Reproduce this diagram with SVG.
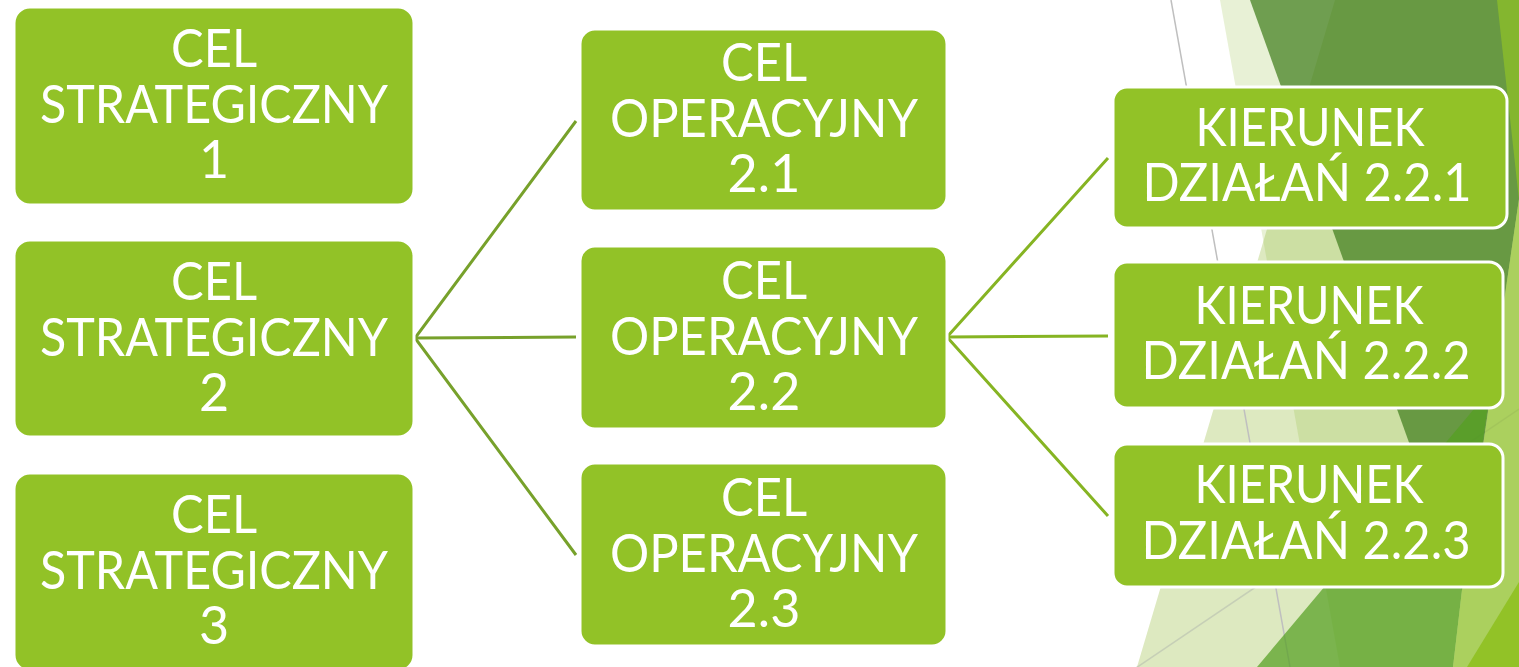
<svg xmlns="http://www.w3.org/2000/svg" width="1519" height="667" viewBox="0 0 1519 667">
  <style>
    .box { fill: #92c227; stroke: #ffffff; stroke-width: 3; }
    .lbl { font-family: Lato, "Liberation Sans", sans-serif; font-size: 52px; fill: #ffffff; text-anchor: middle; }
    .c1 { stroke: #77a12b; stroke-width: 3; fill: none; }
    .c2 { stroke: #86b423; stroke-width: 3; fill: none; }
  </style>
  <rect width="1519" height="667" fill="#ffffff"/>
  <g id="background">
    <polygon points="1335,0 1519,0 1519,667 1137,667" fill="#dde9c0"/>
    <line x1="1171" y1="0" x2="1290" y2="667" stroke="#bfbfbf" stroke-width="1.5"/>
    <line x1="1130" y1="672" x2="1519" y2="409" stroke="#c6cfb6" stroke-width="1.5"/>
    <polygon points="1220,0 1519,0 1519,667 1340,667" fill="#86b527" fill-opacity="0.19"/>
    <polygon points="1250,0 1548,0 1462,590" fill="#478123" fill-opacity="0.75"/>
    <polygon points="1257,667 1490,390 1462,590 1453,667" fill="#54a021" fill-opacity="0.72"/>
    <polygon points="1548,0 1600,0 1600,667 1453,667 1462,590" fill="#90c226" fill-opacity="0.55"/>
    <polygon points="1519,582 1519,667 1467,667" fill="#92c227"/>
    <polygon points="1497,0 1519,0 1519,200" fill="#90c226" fill-opacity="0.7"/>
  </g>
  <g id="connectors">
    <polyline class="c1" points="576,121 415,338 576,555"/>
    <line class="c1" x1="415" y1="338" x2="576" y2="337"/>
    <polyline class="c2" points="1108,158 947,337 1108,516"/>
    <line class="c2" x1="947" y1="337" x2="1108" y2="336"/>
  </g>
  <g id="cs1">
    <rect class="box" x="14" y="7" width="400" height="198" rx="16"/>
    <text class="lbl" x="214" y="67" textLength="86" lengthAdjust="spacingAndGlyphs">CEL</text>
    <text class="lbl" x="214" y="123" textLength="348" lengthAdjust="spacingAndGlyphs">STRATEGICZNY</text>
    <text class="lbl" x="214" y="178">1</text>
  </g>
  <g id="cs2">
    <rect class="box" x="14" y="240" width="400" height="197" rx="16"/>
    <text class="lbl" x="214" y="300" textLength="86" lengthAdjust="spacingAndGlyphs">CEL</text>
    <text class="lbl" x="214" y="356" textLength="348" lengthAdjust="spacingAndGlyphs">STRATEGICZNY</text>
    <text class="lbl" x="214" y="411">2</text>
  </g>
  <g id="cs3">
    <rect class="box" x="14" y="473" width="400" height="198" rx="16"/>
    <text class="lbl" x="214" y="533" textLength="86" lengthAdjust="spacingAndGlyphs">CEL</text>
    <text class="lbl" x="214" y="589" textLength="348" lengthAdjust="spacingAndGlyphs">STRATEGICZNY</text>
    <text class="lbl" x="214" y="644">3</text>
  </g>
  <g id="co21">
    <rect class="box" x="580" y="29" width="367" height="182" rx="15"/>
    <text class="lbl" x="764" y="81" textLength="86" lengthAdjust="spacingAndGlyphs">CEL</text>
    <text class="lbl" x="764" y="137" textLength="308" lengthAdjust="spacingAndGlyphs">OPERACYJNY</text>
    <text class="lbl" x="764" y="192" textLength="73" lengthAdjust="spacing">2.1</text>
  </g>
  <g id="co22">
    <rect class="box" x="580" y="246" width="367" height="183" rx="15"/>
    <text class="lbl" x="764" y="299" textLength="86" lengthAdjust="spacingAndGlyphs">CEL</text>
    <text class="lbl" x="764" y="355" textLength="308" lengthAdjust="spacingAndGlyphs">OPERACYJNY</text>
    <text class="lbl" x="764" y="410" textLength="73" lengthAdjust="spacing">2.2</text>
  </g>
  <g id="co23">
    <rect class="box" x="580" y="463" width="367" height="183" rx="15"/>
    <text class="lbl" x="764" y="516" textLength="86" lengthAdjust="spacingAndGlyphs">CEL</text>
    <text class="lbl" x="764" y="572" textLength="308" lengthAdjust="spacingAndGlyphs">OPERACYJNY</text>
    <text class="lbl" x="764" y="627" textLength="73" lengthAdjust="spacing">2.3</text>
  </g>
  <g id="kd221">
    <rect class="box" x="1113" y="87" width="394" height="141" rx="14"/>
    <text class="lbl" x="1310" y="146" textLength="229" lengthAdjust="spacingAndGlyphs">KIERUNEK</text>
    <text class="lbl" x="1307" y="201" textLength="329" lengthAdjust="spacingAndGlyphs">DZIAŁAŃ 2.2.1</text>
  </g>
  <g id="kd222">
    <rect class="box" x="1113" y="262" width="390" height="146" rx="14"/>
    <text class="lbl" x="1309" y="324" textLength="229" lengthAdjust="spacingAndGlyphs">KIERUNEK</text>
    <text class="lbl" x="1306" y="379" textLength="329" lengthAdjust="spacingAndGlyphs">DZIAŁAŃ 2.2.2</text>
  </g>
  <g id="kd223">
    <rect class="box" x="1113" y="444" width="390" height="143" rx="14"/>
    <text class="lbl" x="1309" y="503" textLength="229" lengthAdjust="spacingAndGlyphs">KIERUNEK</text>
    <text class="lbl" x="1306" y="559" textLength="329" lengthAdjust="spacingAndGlyphs">DZIAŁAŃ 2.2.3</text>
  </g>
</svg>
